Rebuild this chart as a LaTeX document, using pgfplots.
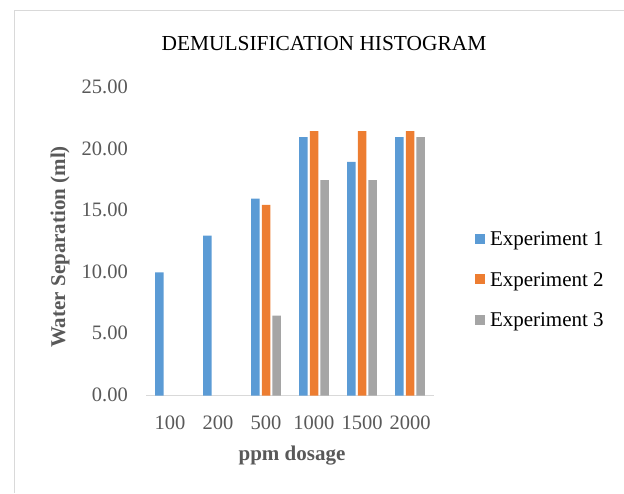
\documentclass[border=0pt]{standalone}
\usepackage{fontspec}
\setmainfont{Liberation Serif}
\usepackage{pgfplots}
\pgfplotsset{compat=1.18}
\definecolor{eb}{HTML}{5B9BD5}
\definecolor{eo}{HTML}{ED7D31}
\definecolor{eg}{HTML}{A5A5A5}
\definecolor{tl}{HTML}{595959}
\definecolor{fr}{HTML}{D9D9D9}
\newcommand{\cf}{\fontsize{21}{25}\selectfont}
\newcommand{\tf}{\fontsize{20.5}{24}\selectfont}
\begin{document}
\cf
\begin{tikzpicture}[x=1pt,y=1pt]
\useasboundingbox (0,0) rectangle (624,493);
\draw[fr, line width=1.5pt] (14.5,0) -- (14.5,482.5) -- (624,482.5);
\begin{axis}[
 at={(146pt,97.5pt)}, anchor=south west,
 scale only axis, width=288pt, height=307.5pt,
 xmin=-0.5, xmax=5.5, ymin=0, ymax=25,
 ybar=2.2pt, bar width=8.5pt,
 xtick={0,...,5}, xticklabels={100,200,500,1000,1500,2000},
 ytick={0,5,...,25},
 yticklabel={\pgfmathprintnumber[fixed,fixed zerofill,precision=2,assume math mode=true]{\tick}},
 major tick length=0pt,
 axis x line*=bottom, axis y line*=left,
 x axis line style={draw=fr, line width=1.5pt, -},
 y axis line style={draw=none},
 tick label style={font=\tf, text=tl, inner sep=0pt},
 xticklabel style={anchor=north, yshift=-20pt},
 yticklabel style={anchor=east, xshift=-18pt, yshift=1pt},
 title={DEMULSIFICATION HISTOGRAM},
 title style={at={(0.618,1.125)}, anchor=center, yshift=0pt, font=\fontsize{21.4}{25}\selectfont, text=black, inner sep=0pt},
 xlabel={ppm dosage},
 xlabel style={at={(0.507,-0.196)}, anchor=center, font=\cf\bfseries, text=tl, inner sep=0pt},
 ylabel={Water Separation (ml)},
 ylabel style={at={(-0.2986,0.483)}, anchor=center, font=\cf\bfseries, text=tl, inner sep=0pt},
 legend style={draw=none, fill=none, at={(1.1424,0.532)}, anchor=north west, inner sep=0pt, outer sep=0pt, row sep=26.5pt, font=\cf, text=black,
   nodes={inner sep=0pt, text height=14pt, text depth=0pt},
   /tikz/every odd column/.append style={column sep=5pt}},
]
\addplot[fill=eb, draw=none, legend image code/.code={\fill[eb] (0pt,-5pt) rectangle (10pt,5pt);}] coordinates {(0,10) (1,13) (2,16) (3,21) (4,19) (5,21)};
\addplot[fill=eo, draw=none, legend image code/.code={\fill[eo] (0pt,-5pt) rectangle (10pt,5pt);}] coordinates {(2,15.5) (3,21.5) (4,21.5) (5,21.5)};
\addplot[fill=eg, draw=none, legend image code/.code={\fill[eg] (0pt,-5pt) rectangle (10pt,5pt);}] coordinates {(2,6.5) (3,17.5) (4,17.5) (5,21)};
\legend{Experiment 1, Experiment 2, Experiment 3}
\end{axis}
\end{tikzpicture}
\end{document}
